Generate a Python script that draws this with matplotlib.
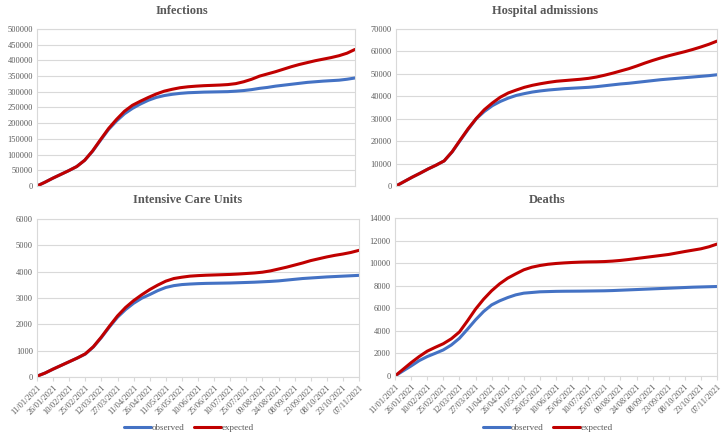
import matplotlib
matplotlib.use("Agg")
import matplotlib.pyplot as plt
import numpy as np
import pandas as pd

# data sampled every 7.5 days from 11/01/2021 to 07/11/2021
dates = pd.date_range("2021-01-11", periods=41, freq="180h")
tick_dates = pd.date_range("2021-01-11", periods=21, freq="15D")
date_labels = [d.strftime("%d/%m/%Y") for d in tick_dates]

inf_obs = [0, 12000, 25000, 37000, 49000, 62000, 82000, 111000, 146000, 180000, 207000,
           230000, 247000, 261000, 273000, 282000, 288000, 292000, 295000, 297000, 298000,
           299000, 299500, 300000, 300500, 302000, 304000, 307000, 311000, 314000, 318000,
           321000, 324000, 327000, 330000, 332000, 334000, 335500, 337000, 340000, 344000]
inf_exp = [0, 12000, 25000, 37000, 49000, 62000, 82000, 112000, 148000, 183000, 212000,
           238000, 257000, 270000, 282000, 293000, 302000, 308000, 313000, 316000, 318000,
           319500, 320500, 321500, 323000, 326000, 332000, 340000, 350000, 357000, 364000,
           372000, 380000, 387000, 393000, 399000, 404000, 409000, 415000, 423000, 435000]

hos_obs = [0, 1950, 3900, 5700, 7600, 9300, 11200, 15200, 20300, 25300, 30000,
           33200, 35800, 37700, 39200, 40400, 41200, 41900, 42400, 42800, 43100,
           43400, 43600, 43800, 44000, 44300, 44700, 45100, 45500, 45800, 46200,
           46600, 47000, 47400, 47700, 48000, 48300, 48600, 48900, 49200, 49600]
hos_exp = [0, 1950, 3900, 5700, 7600, 9300, 11200, 15300, 20500, 25600, 30100,
           34000, 37000, 39600, 41500, 42800, 44000, 44900, 45600, 46200, 46700,
           47000, 47300, 47600, 48000, 48600, 49400, 50300, 51300, 52300, 53500,
           54800, 56000, 57100, 58100, 59000, 59900, 60900, 62000, 63200, 64600]

icu_obs = [30, 150, 300, 440, 580, 720, 870, 1140, 1500, 1900, 2270,
           2560, 2800, 2990, 3130, 3280, 3400, 3470, 3510, 3530, 3545,
           3555, 3560, 3565, 3570, 3580, 3590, 3600, 3615, 3630, 3650,
           3680, 3710, 3740, 3760, 3780, 3800, 3815, 3830, 3845, 3860]
icu_exp = [30, 150, 300, 440, 580, 720, 880, 1150, 1520, 1930, 2320,
           2640, 2900, 3120, 3320, 3490, 3640, 3740, 3790, 3830, 3850,
           3865, 3875, 3885, 3895, 3910, 3930, 3950, 3980, 4030, 4100,
           4170, 4250, 4330, 4420, 4490, 4560, 4620, 4670, 4730, 4810]

dea_obs = [0, 450, 890, 1360, 1720, 2010, 2310, 2750, 3340, 4140, 4970,
           5710, 6300, 6660, 6950, 7190, 7340, 7400, 7460, 7480, 7500,
           7510, 7515, 7520, 7530, 7540, 7550, 7570, 7600, 7630, 7660,
           7690, 7720, 7750, 7780, 7810, 7840, 7870, 7890, 7910, 7930]
dea_exp = [0, 590, 1180, 1720, 2200, 2540, 2860, 3300, 3900, 4880, 5920,
           6800, 7550, 8170, 8670, 9050, 9410, 9640, 9790, 9900, 9970,
           10020, 10060, 10090, 10110, 10120, 10140, 10180, 10240, 10320, 10410,
           10500, 10590, 10680, 10770, 10900, 11030, 11150, 11270, 11450, 11690]

titles = ["Infections", "Hospital admissions", "Intensive Care Units", "Deaths"]
ymax = [500000, 70000, 6000, 14000]
ystep = [50000, 10000, 1000, 2000]

BLUE = "#4472C4"
RED = "#C00000"
TXT = "#595959"
GRID = "#D9D9D9"
FONT = "Liberation Serif"

plt.rcParams["font.family"] = [FONT, "DejaVu Serif"]

fig = plt.figure(figsize=(7.25, 4.37), dpi=100)
W, H = 725, 437
boxes = [(37, 29, 355, 186), (396, 29, 717, 186), (37, 219, 359, 377), (395, 218, 717, 376)]
series = [(inf_obs, inf_exp), (hos_obs, hos_exp), (icu_obs, icu_exp), (dea_obs, dea_exp)]
title_pos = [(182, 11), (545, 11), (188, 200), (547, 200)]
legend_pos = [None, None, (189, 428), (548, 428)]

for k in range(4):
    x0, y0, x1, y1 = boxes[k]
    ax = fig.add_axes([x0 / W, 1 - y1 / H, (x1 - x0) / W, (y1 - y0) / H])
    obs, exp = series[k]
    ax.plot(dates, obs, color=BLUE, lw=2.2, label="observed", solid_capstyle="round",
            solid_joinstyle="round")
    ax.plot(dates, exp, color=RED, lw=2.2, label="expected", solid_capstyle="round",
            solid_joinstyle="round")
    ax.set_xlim(dates[0], dates[-1])
    ax.set_ylim(0, ymax[k])
    yt = np.arange(0, ymax[k] + 1, ystep[k])
    ax.set_yticks(yt)
    ax.set_yticklabels([str(int(v)) for v in yt])
    ax.yaxis.grid(True, color=GRID, lw=0.8)
    ax.set_axisbelow(True)
    for s in ax.spines.values():
        s.set_color(GRID)
        s.set_linewidth(0.8)
    ax.tick_params(axis="y", length=0, labelsize=6, labelcolor=TXT, pad=3)
    if k < 2:
        ax.set_xticks([])
    else:
        ax.set_xticks(tick_dates)
        ax.set_xticklabels(date_labels, rotation=45, ha="right", rotation_mode="anchor")
        ax.tick_params(axis="x", length=3, color=GRID, labelsize=6, labelcolor=TXT, pad=2)
        lx, ly = legend_pos[k]
        leg = ax.legend(loc="center", bbox_to_anchor=(lx / W, 1 - ly / H),
                        bbox_transform=fig.transFigure, ncol=2, frameon=False,
                        fontsize=6.5, handlelength=3.0, handletextpad=0.1,
                        columnspacing=1.0, borderpad=0)
        for t in leg.get_texts():
            t.set_color(TXT)
    tx, ty = title_pos[k]
    fig.text(tx / W, 1 - ty / H, titles[k], ha="center", va="center",
             fontsize=9, fontweight="bold", color=TXT)

fig.savefig("out.png", dpi=100)
